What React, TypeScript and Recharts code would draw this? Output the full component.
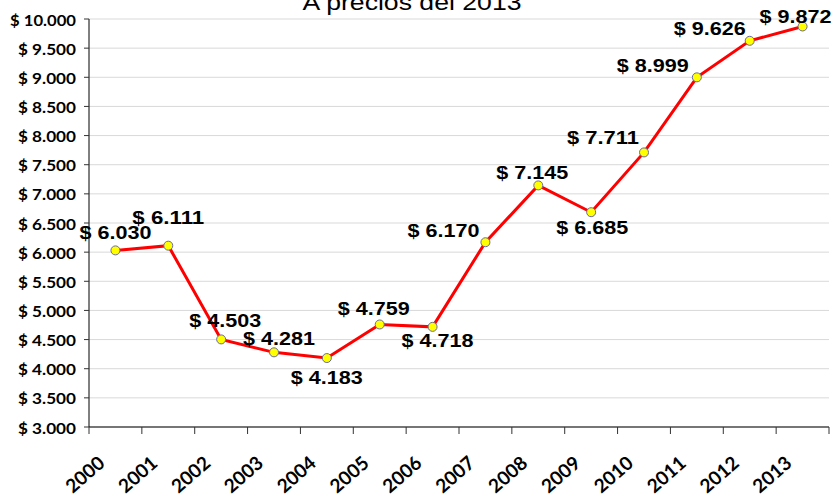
import { LineChart, Line, XAxis, YAxis, CartesianGrid, LabelList } from "recharts";

const years = ["2000", "2001", "2002", "2003", "2004", "2005", "2006", "2007", "2008", "2009", "2010", "2011", "2012", "2013"];
const values = [6030, 6111, 4503, 4281, 4183, 4759, 4718, 6170, 7145, 6685, 7711, 8999, 9626, 9872];
const yTicks = [3000, 3500, 4000, 4500, 5000, 5500, 6000, 6500, 7000, 7500, 8000, 8500, 9000, 9500, 10000];
const xTicks = [0, 1, 2, 3, 4, 5, 6, 7, 8, 9, 10, 11, 12, 13, 14];

// where each data label sits relative to its point (dx, dy of label centre)
const LABEL_OFFSETS: [number, number][] = [
  [0, -18], [0, -28], [4, -19], [5, -14], [0, 19], [-6, -16], [5, 14],
  [-42, -12], [-6, -13], [1, 15], [-41, -15], [-44, -12], [-40, -12], [-7, -10],
];

const data = years.map((year, i) => ({ x: i + 0.5, year, value: values[i] }));

const money = (v: number) => "$ " + String(v).replace(/\B(?=(\d{3})+(?!\d))/g, ".");

function YTick(props: any) {
  const { x, y, payload } = props;
  const label = money(payload.value);
  return (
    <text
      x={x}
      y={y}
      textAnchor="end"
      dominantBaseline="central"
      fontFamily="Lato"
      fontWeight={700}
      fontSize={16}
      fill="#000"
      textLength={label.length > 7 ? 66 : 58}
      lengthAdjust="spacingAndGlyphs"
    >
      {label}
    </text>
  );
}

function XTick(props: any) {
  const { x, y, payload } = props;
  if (payload.value >= years.length) return <g />;
  const px = x + 17;
  const py = y + 29;
  return (
    <text
      x={px}
      y={py}
      textAnchor="end"
      transform={`rotate(-41 ${px} ${py})`}
      fontFamily="Lato"
      fontWeight={700}
      fontSize={19}
      fill="#000"
    >
      {years[payload.value]}
    </text>
  );
}

function PointLabel(props: any) {
  const { x, y, index, value } = props;
  const [dx, dy] = LABEL_OFFSETS[index] || [0, -15];
  return (
    <text
      x={x + dx}
      y={y + dy}
      textAnchor="middle"
      dominantBaseline="central"
      fontFamily="Liberation Sans"
      fontWeight={700}
      fontSize={19}
      fill="#000"
      textLength={72}
      lengthAdjust="spacingAndGlyphs"
    >
      {money(value)}
    </text>
  );
}

export default function App() {
  return (
    <div style={{ position: "relative", width: 835, height: 495, background: "#fff", overflow: "hidden" }}>
      <style>{"body{margin:0}"}</style>
      <LineChart width={835} height={495} data={data} margin={{ top: 19, right: 6, left: 0, bottom: 0 }}>
        <CartesianGrid vertical={false} stroke="#d9d9d9" />
        <XAxis
          dataKey="x"
          type="number"
          domain={[0, 14]}
          ticks={xTicks}
          interval={0}
          height={68}
          tickSize={7}
          axisLine={{ stroke: "#000" }}
          tickLine={{ stroke: "#333" }}
          tick={<XTick />}
        />
        <YAxis
          type="number"
          domain={[3000, 10000]}
          ticks={yTicks}
          interval={0}
          width={89}
          tickSize={5}
          tickMargin={8}
          axisLine={{ stroke: "#000" }}
          tickLine={{ stroke: "#333" }}
          tick={<YTick />}
        />
        <Line
          type="linear"
          dataKey="value"
          stroke="#ff0000"
          strokeWidth={3}
          dot={{ r: 4.5, fill: "#ffff00", stroke: "#6b6b9e", strokeWidth: 1 }}
          isAnimationActive={false}
        >
          <LabelList dataKey="value" content={<PointLabel />} />
        </Line>
      </LineChart>
      <svg width={835} height={40} style={{ position: "absolute", left: 0, top: 0, pointerEvents: "none" }}>
        <text
          x={412}
          y={10}
          textAnchor="middle"
          fontFamily="Liberation Sans"
          fontSize={22}
          fill="#000"
          textLength={219}
          lengthAdjust="spacingAndGlyphs"
        >
          A precios del 2013
        </text>
      </svg>
    </div>
  );
}
